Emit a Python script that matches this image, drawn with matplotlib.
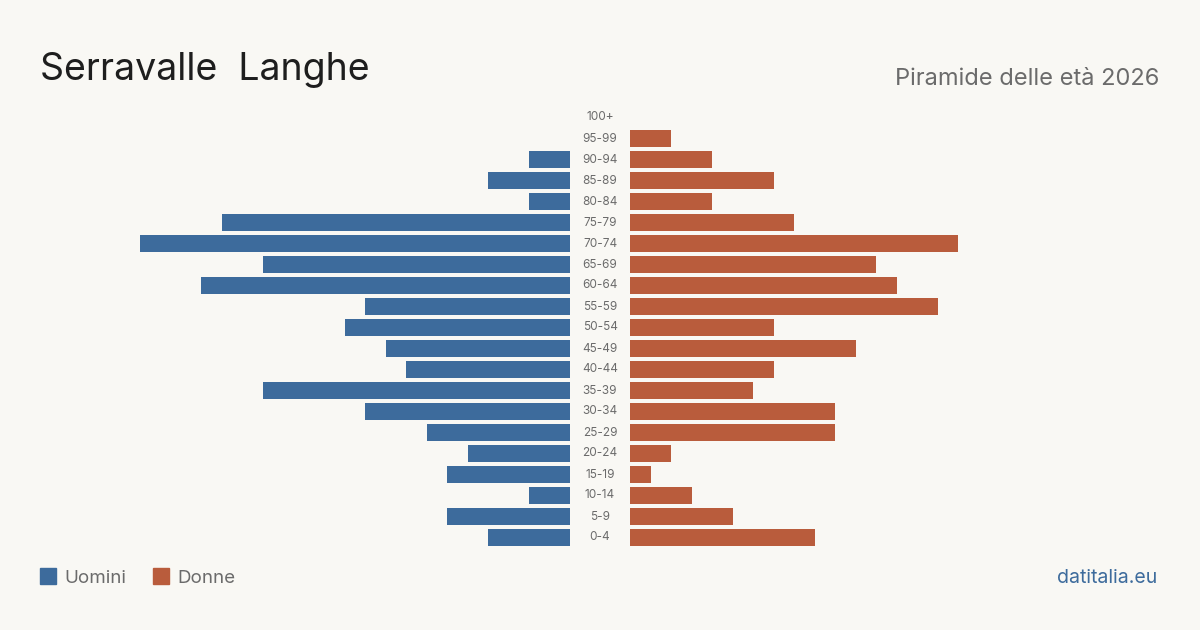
import matplotlib
matplotlib.use("Agg")
from matplotlib import pyplot as plt
from matplotlib.patches import Rectangle

plt.rcParams["font.family"] = ["Inter", "DejaVu Sans"]

age_groups = ["0-4", "5-9", "10-14", "15-19", "20-24", "25-29", "30-34", "35-39",
              "40-44", "45-49", "50-54", "55-59", "60-64", "65-69", "70-74", "75-79",
              "80-84", "85-89", "90-94", "95-99", "100+"]
uomini = [4, 6, 2, 6, 5, 7, 10, 15, 8, 9, 11, 10, 18, 15, 21, 17, 2, 4, 2, 0, 0]
donne = [9, 5, 3, 1, 2, 10, 10, 6, 7, 11, 7, 15, 13, 12, 16, 8, 4, 7, 4, 2, 0]

bg = "#f9f8f4"
blue = "#3d6b9c"
orange = "#b95c3c"
grey = "#6b6b6b"

W, H = 1200, 630
fig = plt.figure(figsize=(12, 6.3), dpi=100, facecolor=bg)

px_per_unit = 20.5
ax_w = 530
top_px, bot_px = 107, 548
y0 = 1 - bot_px / H
hh = (bot_px - top_px) / H

axl = fig.add_axes([40 / W, y0, ax_w / W, hh])
axr = fig.add_axes([630 / W, y0, ax_w / W, hh])

pos = list(range(len(age_groups)))
axl.barh(pos, uomini, height=0.8, color=blue)
axr.barh(pos, donne, height=0.8, color=orange)
axl.set_xlim(ax_w / px_per_unit, 0)
axr.set_xlim(0, ax_w / px_per_unit)
for ax in (axl, axr):
    ax.set_ylim(-0.5, len(age_groups) - 0.5)
    ax.axis("off")

for i, lab in enumerate(age_groups):
    yf = y0 + hh * (i + 0.5) / len(age_groups)
    fig.text(600 / W, yf, lab, ha="center", va="center", fontsize=8.5, color=grey)

fig.text(40 / W, 1 - 80 / H, "Serravalle  Langhe", fontsize=27, color="#1e1e1e",
         ha="left", va="baseline")
fig.text(1159 / W, 1 - 85 / H, "Piramide delle età 2026", fontsize=17, color=grey,
         ha="right", va="baseline")

# legend
fig.add_artist(Rectangle((40 / W, 1 - 584 / H), 16 / W, 16 / H, color=blue,
                         transform=fig.transFigure))
fig.text(64 / W, 1 - 583 / H, "Uomini", fontsize=13.5, color=grey, va="baseline")
fig.add_artist(Rectangle((153 / W, 1 - 584 / H), 16 / W, 16 / H, color=orange,
                         transform=fig.transFigure))
fig.text(177 / W, 1 - 583 / H, "Donne", fontsize=13.5, color=grey, va="baseline")

fig.text(1157 / W, 1 - 583 / H, "datitalia.eu", fontsize=14, color=blue,
         ha="right", va="baseline")

plt.savefig("out.png", dpi=100, facecolor=bg)
